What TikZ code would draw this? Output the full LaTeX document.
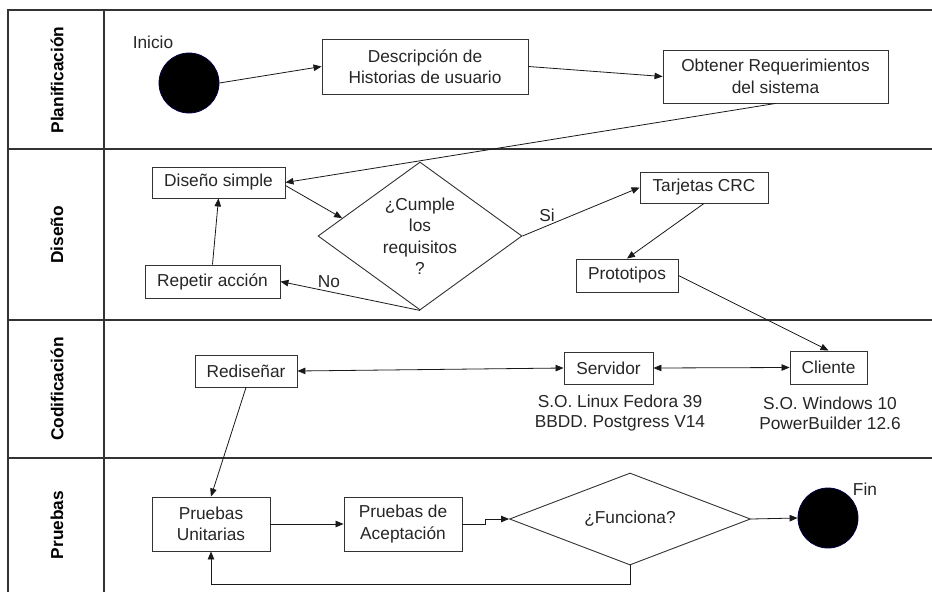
\documentclass[tikz,border=0pt]{standalone}
\usepackage{fontspec}
\setmainfont{Liberation Sans}
\usetikzlibrary{shapes.geometric,arrows.meta,calc}
\begin{document}
\begin{tikzpicture}[x=1pt,y=-1pt,
  every node/.style={font=\fontsize{17.3pt}{21.5pt}\selectfont, text=black!85},
  box/.style={draw=black!80, line width=0.9pt, align=center, inner sep=0pt},
  dia/.style={draw=black!80, line width=0.9pt, shape=diamond, align=center, inner sep=0pt},
  dot/.style={circle, fill=black, draw=black!75!blue, line width=0.8pt, minimum size=60pt, inner sep=0pt},
  conn/.style={draw=black!90, line width=0.8pt, -{Triangle[length=8pt,width=6.5pt]}},
  both/.style={draw=black!90, line width=0.8pt, {Triangle[length=8pt,width=6.5pt]}-{Triangle[length=8pt,width=6.5pt]}},
  plain/.style={draw=black!90, line width=0.8pt},
  frame/.style={draw=black!80, line width=1.4pt},
  lane/.style={rotate=90, font=\fontsize{17.3pt}{21pt}\selectfont\bfseries, text=black}
]
\useasboundingbox (0,0) rectangle (932,592);
\fill[white] (0,0) rectangle (932,592);

% swimlane frame
\draw[frame] (932,10) -- (8,10) -- (8,592);
\draw[frame] (104,10) -- (104,592);
\draw[frame] (8,149) -- (932,149);
\draw[frame] (8,320) -- (932,320);
\draw[frame] (8,458) -- (932,458);

\node[lane] (l1) at (57,80) {Planificación};
\node[lane] (l2) at (57,235) {Diseño};
\node[lane] (l3) at (57,389) {Codificación};
\node[lane] (l4) at (57,525) {Pruebas};

% Planificacion
\node[dot] (ini) at (189,83) {};
\node (inilbl) at (153,42) {Inicio};
\node[box, minimum width=206pt, minimum height=55pt] (desc) at (425,66.5) {Descripción de\\Historias de usuario};
\node[box, minimum width=225pt, minimum height=53pt] (obt) at (775.5,76.5) {Obtener Requerimientos\\del sistema};

% Diseno
\node[box, minimum width=133pt, minimum height=31pt] (dis) at (218.5,182.5) {Diseño simple};
\node[box, minimum width=135pt, minimum height=33pt] (rep) at (212.5,281.5) {Repetir acción};
\node[dia, aspect=1.38, minimum width=204pt, minimum height=148pt] (cum) at (420,236) {¿Cumple\\los\\requisitos\\?};
\node[box, minimum width=128pt, minimum height=31pt] (tar) at (704,187.5) {Tarjetas CRC};
\node[box, minimum width=102pt, minimum height=33pt] (pro) at (627,275.5) {Prototipos};
\node (nolbl) at (329,282) {No};
\node (silbl) at (547,215) {Si};

% Codificacion
\node[box, minimum width=102pt, minimum height=32pt] (red) at (246,371) {Rediseñar};
\node[box, minimum width=89pt, minimum height=32pt] (ser) at (608.5,368) {Servidor};
\node[box, minimum width=77pt, minimum height=33pt] (cli) at (828.5,367.5) {Cliente};
\node[align=center, font=\fontsize{17.3pt}{20pt}\selectfont] (sertxt) at (620,413) {S.O. Linux Fedora 39\\BBDD. Postgress V14};
\node[align=center, font=\fontsize{17.3pt}{20pt}\selectfont] (clitxt) at (830,413) {S.O. Windows 10\\PowerBuilder 12.6};

% Pruebas
\node[box, minimum width=118pt, minimum height=54pt] (pu) at (211,524) {Pruebas\\Unitarias};
\node[box, minimum width=118pt, minimum height=54pt] (pa) at (403,524) {Pruebas de\\Aceptación};
\node[dia, aspect=2.62, minimum width=241pt, minimum height=92pt] (fun) at (630,519) {¿Funciona?};
\node[dot] (fin) at (828,518) {};
\node (finlbl) at (865,489) {Fin};

% connectors
\draw[conn] (ini.east) -- (desc.west);
\draw[conn] (desc.east) -- (obt.west);
\draw[conn] (obt.south) -- (dis.east);
\draw[conn] ([yshift=-3pt]dis.east) -- ($(cum.west)!0.24!(cum.north)$);
\draw[conn] (rep.north) -- (dis.south);
\draw[conn] (cum.south) -- (rep.east);
\draw[conn] (cum.east) -- (tar.west);
\draw[conn] (tar.south) -- (pro.north);
\draw[conn] (pro.east) -- (cli.north);
\draw[both] (red.east) -- (ser.west);
\draw[both] (ser.east) -- (cli.west);
\draw[conn] (red.south) -- (pu.north);
\draw[conn] (pu.east) -- (pa.west);
\draw[conn] (pa.east) -- ++(23,0) |- (fun.west);
\draw[conn] (fun.east) -- (fin.west);
\draw[conn] (fun.south) -- ++(0,19) -| (pu.south);
\end{tikzpicture}
\end{document}
